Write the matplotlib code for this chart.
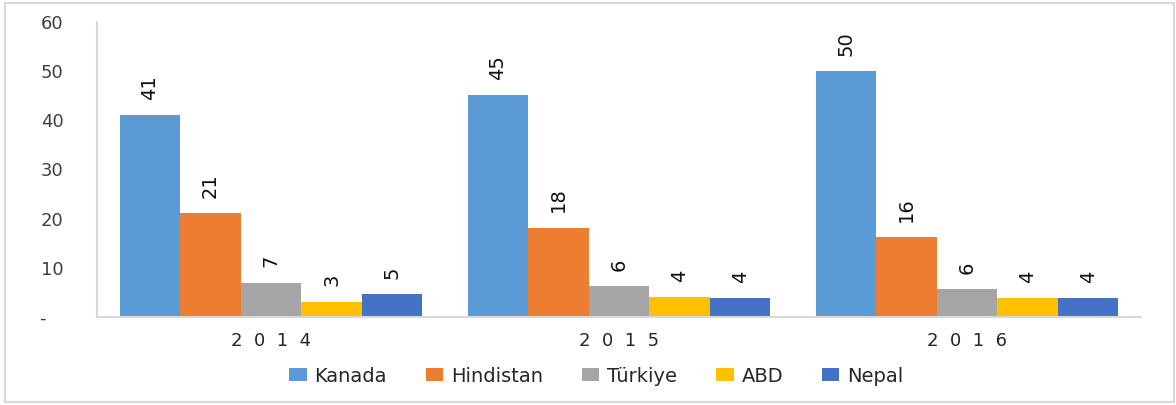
import matplotlib.pyplot as plt
from matplotlib.patches import Rectangle
import numpy as np

# veriler
years = ["2014", "2015", "2016"]
countries = ["Kanada", "Hindistan", "Türkiye", "ABD", "Nepal"]
kanada = [41.0, 45.1, 50.0]
hindistan = [21.1, 18.2, 16.2]
turkiye = [7.0, 6.3, 5.6]
abd = [3.1, 4.1, 3.9]
nepal = [4.6, 3.9, 3.9]
y_ticks = [0, 10, 20, 30, 40, 50, 60]

series = [kanada, hindistan, turkiye, abd, nepal]
colors = ["#5B9BD5", "#ED7D31", "#A5A5A5", "#FFC000", "#4472C4"]

fig = plt.figure(figsize=(11.76, 4.05), dpi=100)
ax = fig.add_axes([97 / 1176, 1 - 317 / 405, (1141 - 97) / 1176, (317 - 22) / 405])

x = np.arange(len(years))
width = 0.174
for i, (name, vals) in enumerate(zip(countries, series)):
    pos = x + (i - 2) * width
    ax.bar(pos, vals, width, color=colors[i], label=name)
    for px, v in zip(pos, vals):
        ax.annotate(f"{v:.0f}", xy=(px, v), xytext=(0, 11), textcoords="offset points",
                    rotation=90, ha="center", va="bottom", fontsize=14, color="#111111")

ax.set_xlim(-0.5, 2.5)
ax.set_ylim(0, 60)
ax.set_yticks(y_ticks)
# excel muhasebe bicimi: sifir "-" olarak gorunur
ax.set_yticklabels(["-   " if t == 0 else str(t) for t in y_ticks])
ax.set_xticks(x)
ax.set_xticklabels(["  ".join(y) for y in years])
ax.tick_params(axis="y", length=0, pad=24, labelsize=13, labelcolor="#404040")
ax.tick_params(axis="x", length=0, pad=11, labelsize=13, labelcolor="#262626")

for s in ["top", "right"]:
    ax.spines[s].set_visible(False)
for s in ["left", "bottom"]:
    ax.spines[s].set_color("#d9d9d9")
    ax.spines[s].set_linewidth(1.5)

fig.legend(loc="center", bbox_to_anchor=(0.507, 1 - 376 / 405), ncol=5, frameon=False,
           fontsize=14, handlelength=0.9, handleheight=0.6, handletextpad=0.4,
           columnspacing=2.0, labelcolor="#262626")

# dis cerceve
fig.patches.append(Rectangle((5 / 1176, 3 / 405), 1169 / 1176, 399 / 405, transform=fig.transFigure,
                             fill=False, edgecolor="#d9d9d9", linewidth=1.5))

plt.savefig("out.png", dpi=100)
